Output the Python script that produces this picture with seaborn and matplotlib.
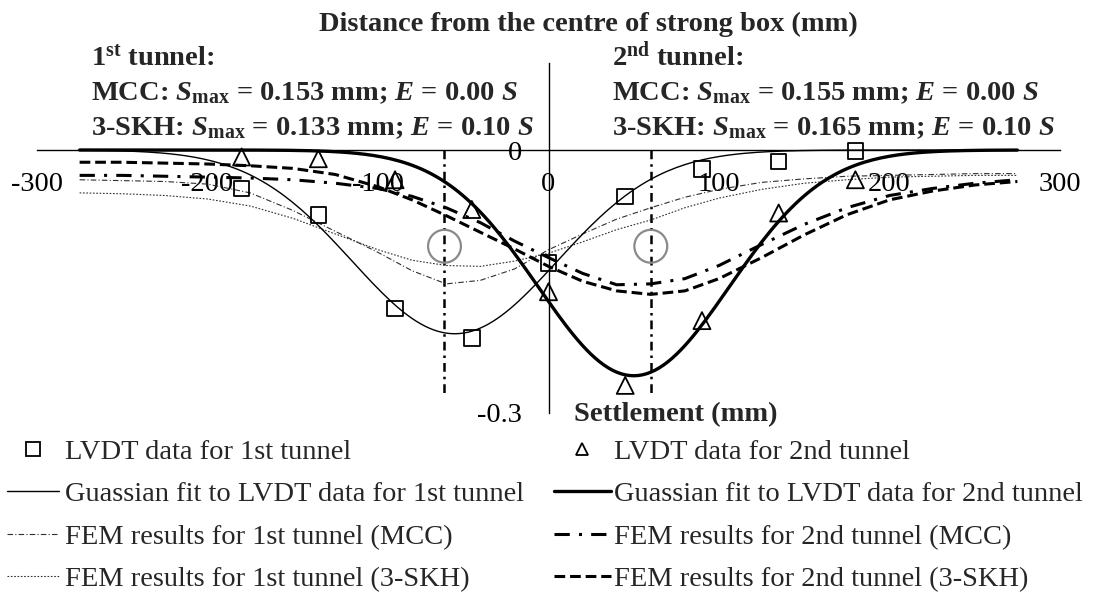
import matplotlib
matplotlib.use("Agg")
import numpy as np
import matplotlib.pyplot as plt
from matplotlib.lines import Line2D
import seaborn as sns

# ---------------------------------------------------------------------------
# Data
# ---------------------------------------------------------------------------
# LVDT positions (mm from the centre of the strong box) and settlements (mm)
lvdt_x = [-180, -135, -90, -45, 0, 45, 90, 135, 180]
lvdt_1st = [-0.044, -0.074, -0.181, -0.215, -0.129, -0.053, -0.022, -0.013, -0.001]
lvdt_2nd = [-0.008, -0.010, -0.034, -0.068, -0.162, -0.269, -0.195, -0.072, -0.034]

# Gaussian fits to the LVDT data: S = -Smax * exp(-(x - x0)^2 / (2 i^2))
gauss_1st = {"smax": 0.210, "x0": -55.0, "i": 60.0}
gauss_2nd = {"smax": 0.258, "x0": 50.0, "i": 56.0}
fit_span = (-275, 275)

# FEM settlement profiles
fem_x = [-275, -250, -225, -200, -175, -150, -125, -100, -80, -60, -40, -20, 0,
         20, 40, 60, 80, 100, 125, 150, 175, 200, 225, 250, 275]
fem_1st_mcc = [-0.034, -0.035, -0.036, -0.039, -0.049, -0.069, -0.093, -0.117, -0.138,
               -0.153, -0.149, -0.136, -0.114, -0.096, -0.079, -0.066, -0.054, -0.045,
               -0.037, -0.033, -0.030, -0.029, -0.028, -0.027, -0.027]
fem_1st_skh = [-0.049, -0.050, -0.052, -0.056, -0.064, -0.078, -0.096, -0.114, -0.126,
               -0.132, -0.133, -0.127, -0.118, -0.105, -0.091, -0.080, -0.066, -0.055,
               -0.045, -0.038, -0.034, -0.031, -0.030, -0.029, -0.029]
fem_2nd_mcc = [-0.029, -0.029, -0.030, -0.031, -0.032, -0.034, -0.038, -0.044, -0.053,
               -0.066, -0.083, -0.104, -0.123, -0.141, -0.154, -0.153, -0.147, -0.132,
               -0.108, -0.085, -0.066, -0.052, -0.044, -0.038, -0.034]
fem_2nd_skh = [-0.014, -0.014, -0.015, -0.016, -0.018, -0.021, -0.028, -0.042, -0.057,
               -0.075, -0.094, -0.113, -0.133, -0.150, -0.161, -0.165, -0.161, -0.147,
               -0.123, -0.097, -0.074, -0.057, -0.047, -0.040, -0.036]

# Tunnel centre lines and tunnel outlines
tunnel_x = [-61, 60]
tunnel_y = [-0.11, -0.11]
tunnel_line_bottom = -0.28

x_ticks = [-300, -200, -100, 0, 100, 200, 300]
y_ticks = [-0.3, 0.0]

legend_left = ["LVDT data for 1st tunnel",
               "Guassian fit to LVDT data for 1st tunnel",
               "FEM results for 1st tunnel (MCC)",
               "FEM results for 1st tunnel (3-SKH)"]
legend_right = ["LVDT data for 2nd tunnel",
                "Guassian fit to LVDT data for 2nd tunnel",
                "FEM results for 2nd tunnel (MCC)",
                "FEM results for 2nd tunnel (3-SKH)"]

# ---------------------------------------------------------------------------
# Style
# ---------------------------------------------------------------------------
sns.set_theme(style="white")
plt.rcParams.update({
    "font.family": ["Liberation Serif", "DejaVu Serif"],
    "mathtext.fontset": "custom",
    "mathtext.rm": "Liberation Serif",
    "mathtext.it": "Liberation Serif:italic",
    "mathtext.bf": "Liberation Serif:bold",
    "mathtext.bfit": "Liberation Serif:bold:italic",
    "axes.unicode_minus": False,
})
FS = 20.5
W, H = 1097, 595

fig = plt.figure(figsize=(W / 100, H / 100), dpi=100)
fig.patch.set_facecolor("white")
ax = fig.add_axes([37 / W, 1 - 412.5 / H, 1023 / W, 350 / H])
ax.set_facecolor("white")

THIN, THICK = 0.8, 2.2


def draw_line(x, y, lw, color="black", dashes=None, z=3):
    sns.lineplot(x=x, y=y, ax=ax, color=color, linewidth=lw,
                 estimator=None, sort=False, legend=False, zorder=z)
    line = ax.lines[-1]
    if dashes is not None:
        line.set_dashes(dashes)
    return line


# tunnel centre lines
for tx in tunnel_x:
    draw_line([tx, tx], [0.0, tunnel_line_bottom], 1.8, dashes=(3.5, 2, 1, 2), z=2)

# tunnel outlines
sns.scatterplot(x=tunnel_x, y=tunnel_y, ax=ax, marker="o", s=560, legend=False, zorder=2)
circ = ax.collections[-1]
circ.set_facecolor("none")
circ.set_edgecolor("#8a8a8a")
circ.set_linewidth(1.6)

# FEM curves
draw_line(fem_x, fem_1st_mcc, THIN, color="#303030", dashes=(5, 2, 1, 2))
draw_line(fem_x, fem_1st_skh, THIN, color="#303030", dashes=(1.5, 1.5))
draw_line(fem_x, fem_2nd_mcc, THICK, dashes=(5, 3, 1, 3))
draw_line(fem_x, fem_2nd_skh, THICK, dashes=(3.5, 1.6))

# Gaussian fits
xs = np.linspace(fit_span[0], fit_span[1], 221)
for g, lw in ((gauss_1st, 1.0), (gauss_2nd, 2.4)):
    ys = -g["smax"] * np.exp(-(xs - g["x0"]) ** 2 / (2 * g["i"] ** 2))
    draw_line(xs, ys, lw, z=4)

# LVDT points
for yy, mk, size in ((lvdt_1st, "s", 125), (lvdt_2nd, "^", 150)):
    sns.scatterplot(x=lvdt_x, y=yy, ax=ax, marker=mk, s=size, legend=False, zorder=6)
    pts = ax.collections[-1]
    pts.set_facecolor("none")
    pts.set_edgecolor("black")
    pts.set_linewidth(1.3)

# ---------------------------------------------------------------------------
# Axes
# ---------------------------------------------------------------------------
ax.set_xlim(-300, 300)
ax.set_ylim(-0.3, 0.1)
for side in ("top", "right"):
    ax.spines[side].set_visible(False)
ax.spines["bottom"].set_position(("data", 0))
ax.spines["left"].set_position(("data", 0))
for side in ("bottom", "left"):
    ax.spines[side].set_color("black")
    ax.spines[side].set_linewidth(1.0)
    ax.spines[side].set_zorder(5)

ax.set_xticks(x_ticks)
ax.set_xticklabels([f"{v:d}" for v in x_ticks])
ax.set_yticks(y_ticks)
ax.set_yticklabels(["-0.3", "0"])
ax.tick_params(axis="x", direction="out", length=5, width=1.0, color="black",
               pad=10.5, labelsize=FS, labelcolor="black")
ax.tick_params(axis="y", direction="out", length=6, width=1.0, color="black",
               pad=13, labelsize=FS, labelcolor="black")
ax.set_xlabel("")
ax.set_ylabel("")
ax.grid(False)

# Titles on the axes
fig.text(588 / W, 1 - 24 / H, "Distance from the centre of strong box (mm)",
         ha="center", va="center", fontsize=FS, fontweight="bold")
fig.text(574 / W, 1 - 415 / H, "Settlement (mm)", ha="left", va="center",
         fontsize=FS, fontweight="bold")

# Model summaries
blocks = [
    (91, [r"1$^{\mathbf{st}}$ tunnel:",
          r"MCC: $\mathbfit{S}_{\mathbf{max}}$ = 0.153 mm; $\mathbfit{E}$ = 0.00 $\mathbfit{S}$",
          r"3-SKH: $\mathbfit{S}_{\mathbf{max}}$ = 0.133 mm; $\mathbfit{E}$ = 0.10 $\mathbfit{S}$"]),
    (612, [r"2$^{\mathbf{nd}}$ tunnel:",
           r"MCC: $\mathbfit{S}_{\mathbf{max}}$ = 0.155 mm; $\mathbfit{E}$ = 0.00 $\mathbfit{S}$",
           r"3-SKH: $\mathbfit{S}_{\mathbf{max}}$ = 0.165 mm; $\mathbfit{E}$ = 0.10 $\mathbfit{S}$"]),
]
baselines = [65, 100, 135]
for x0, lines in blocks:
    for txt, b in zip(lines, baselines):
        fig.text(x0 / W, 1 - b / H, txt, ha="left", va="baseline",
                 fontsize=FS, fontweight="bold")

# ---------------------------------------------------------------------------
# Legend (two columns)
# ---------------------------------------------------------------------------
h_left = [
    Line2D([], [], ls="none", marker="s", mfc="none", mec="black", ms=10.5, mew=1.3),
    Line2D([], [], color="black", lw=1.0),
    Line2D([], [], color="#303030", lw=THIN, dashes=(5, 2, 1, 2)),
    Line2D([], [], color="#303030", lw=THIN, dashes=(1.5, 1.5)),
]
h_right = [
    Line2D([], [], ls="none", marker="^", mfc="none", mec="black", ms=8, mew=1.3),
    Line2D([], [], color="black", lw=2.4),
    Line2D([], [], color="black", lw=THICK, dashes=(5, 3, 1, 3)),
    Line2D([], [], color="black", lw=THICK, dashes=(3.5, 1.6)),
]
common = dict(loc="upper left", frameon=False, borderpad=0, borderaxespad=0,
              labelspacing=0.58, fontsize=FS, numpoints=1)
fig.legend(h_left, legend_left, bbox_to_anchor=(7 / W, 1 - 439 / H),
           handlelength=1.83, handletextpad=0.21, **common)
fig.legend(h_right, legend_right, bbox_to_anchor=(554 / W, 1 - 439 / H),
           handlelength=2.0, handletextpad=0.1, **common)

fig.savefig("out.png", dpi=100, facecolor="white")
